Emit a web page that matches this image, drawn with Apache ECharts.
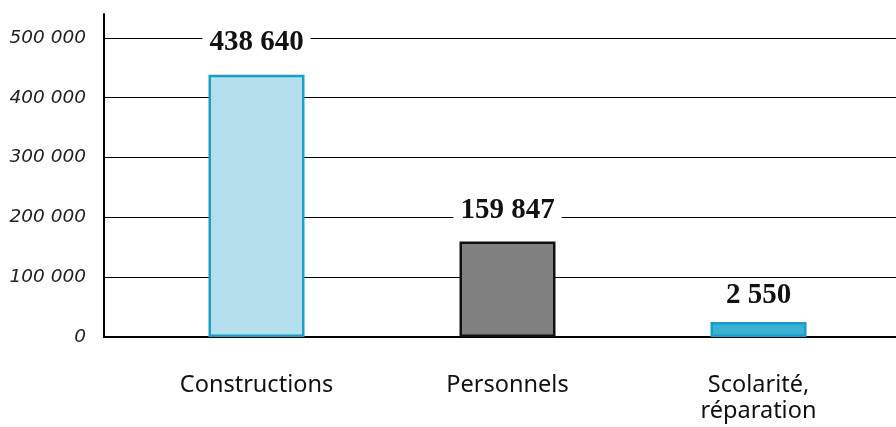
<!DOCTYPE html>
<html><head><meta charset="utf-8">
<script src="https://cdn.jsdelivr.net/npm/echarts@6/dist/echarts.min.js"></script>
<style>html,body{margin:0;padding:0;background:#fff}#c{width:896px;height:427px}</style>
</head><body><div id="c"></div>
<script>
const categories = ['Constructions', 'Personnels', 'Scolarité,\nréparation'];
const values = [438640, 159847, 2550];
const yTicks = [0, 100000, 200000, 300000, 400000, 500000];

const fills = ['#b3e0ec', '#808080', '#38b3d3'];
const borders = ['#1a9ec7', '#111111', '#1a9ec7'];
const labelDist = [16, 15, 10];

const fmt = v => String(v).replace(/\B(?=(\d{3})+(?!\d))/g, ' ');

const chart = echarts.init(document.getElementById('c'), null, {renderer: 'canvas'});
const yMax = 540000;
chart.setOption({
  animation: false,
  grid: [
    {left: 104, right: 0, top: 14, bottom: 90},
    {left: 131, right: 12, top: 14, bottom: 90}
  ],
  xAxis: [
    {gridIndex: 0, type: 'category', data: categories, axisLabel: {show: false}, axisTick: {show: false},
     axisLine: {show: true, lineStyle: {color: '#000', width: 2}}, splitLine: {show: false}},
    {gridIndex: 1, type: 'category', data: categories, axisTick: {show: false}, axisLine: {show: false},
     axisLabel: {show: true, color: '#111', fontFamily: 'Noto Sans', fontSize: 23.5, lineHeight: 26, margin: 35, interval: 0}}
  ],
  yAxis: [
    {gridIndex: 0, type: 'value', min: 0, max: yMax, interval: 100000,
     axisLine: {show: true, lineStyle: {color: '#000', width: 2}}, axisTick: {show: false},
     axisLabel: {show: true, showMaxLabel: false, margin: 18, color: '#222', fontFamily: 'DejaVu Sans', fontStyle: 'italic', fontSize: 18.5,
       formatter: v => yTicks.includes(v) ? fmt(v) : ''},
     splitLine: {show: true, lineStyle: {color: ['#000','#000','#000','#000','#000','#000','rgba(0,0,0,0)'], width: 1}}},
    {gridIndex: 1, type: 'value', min: 0, max: yMax, interval: 100000, show: false, splitLine: {show: false}}
  ],
  series: [{
    type: 'bar', xAxisIndex: 1, yAxisIndex: 1, barWidth: 96, barMinHeight: 15,
    data: values.map((v, i) => ({
      value: v,
      itemStyle: {color: fills[i], borderColor: borders[i], borderWidth: 2.5},
      label: {distance: labelDist[i]}
    })),
    label: {
      show: true, position: 'top', formatter: p => fmt(p.value),
      fontFamily: 'Liberation Serif', fontWeight: 'bold', fontSize: 29, color: '#111',
      backgroundColor: '#fff', padding: [2, 7], lineHeight: 28
    }
  }]
});
</script></body></html>
